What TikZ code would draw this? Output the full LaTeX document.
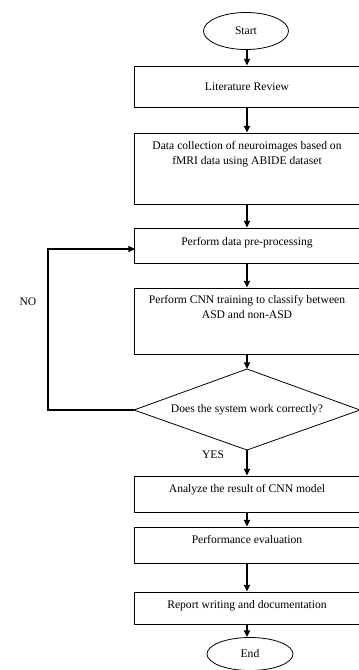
\documentclass[tikz,border=0pt]{standalone}
\usepackage{fontspec}
\setmainfont{Liberation Serif}
\usetikzlibrary{shapes.geometric,arrows.meta}
\tikzset{
  txt/.style={font=\fontsize{8.7}{10.8}\selectfont},
  box/.style={draw, line width=0.6pt, minimum width=169.5pt, inner sep=0pt, txt, align=center},
  raise/.style={text height=6.2pt, text depth=#1},
  oval/.style={draw, ellipse, line width=0.6pt, inner sep=0pt, txt},
  shapeline/.style={draw, line width=0.6pt},
  arr/.style={-{Triangle[length=5pt,width=4.5pt]}, line width=1.2pt},
  lbl/.style={txt, inner sep=0pt}
}
\begin{document}
\begin{tikzpicture}[x=0.75pt,y=-0.75pt]
\useasboundingbox (0,0) rectangle (359,670);
\clip (0,0) rectangle (359,670);
\node[oval, minimum width=63.75pt, minimum height=27.75pt] (start) at (246,31) {Start};
\node[box, minimum height=30.75pt] (lit) at (247,86.5) {Literature Review};
\node[box, minimum height=53.25pt] (data) at (247,168.5) {};
\node[lbl, align=center, anchor=north] (datat) at (247,141.5) {Data collection of neuroimages based on\\fMRI data using ABIDE dataset};
\node[box, raise=5.8pt, minimum height=26.25pt] (pre) at (247,245.5) {Perform data pre-processing};
\node[box, minimum height=49.5pt] (cnn) at (247,321) {};
\node[lbl, align=center, anchor=north] (cnnt) at (247,295.5) {Perform CNN training to classify between\\ASD and non-ASD};
% decision diamond
\coordinate (dtop) at (247,369);
\coordinate (dright) at (360,410);
\coordinate (dbot) at (247,450);
\coordinate (dleft) at (134,410);
\draw[shapeline] (dtop) -- (dright) -- (dbot) -- (dleft) -- cycle;
\node[lbl] (dec) at (247,410) {Does the system work correctly?};
\node[box, raise=9pt, minimum height=27pt] (ana) at (247,494) {Analyze the result of CNN model};
\node[box, raise=9pt, minimum height=27pt] (perf) at (247,545) {Performance evaluation};
\node[box, raise=5pt, minimum height=24pt] (rep) at (247,608) {Report writing and documentation};
\node[oval, minimum width=64.5pt, minimum height=24.75pt] (end) at (250,654) {End};
\node[lbl] (no) at (28,302) {NO};
\node[lbl] (yes) at (213,455) {YES};
\coordinate (c1) at (48,410);
\coordinate (c2) at (48,249);
\coordinate (c3) at (135,249);

\draw[arr] (start.south -| 247,0) -- (lit.north);
\draw[arr] (lit.south) -- (data.north);
\draw[arr] (data.south) -- (pre.north);
\draw[arr] (pre.south) -- (cnn.north);
\draw[arr] (cnn.south) -- (dtop);
\draw[arr] (dbot) -- (ana.north);
\draw[arr] (ana.south) -- (perf.north);
\draw[arr] (perf.south) -- (rep.north);
\draw[arr] (rep.south) -- (end.north -| 247,0);
\draw[arr] (dleft) -- (c1) -- (c2) -- (c3);
\end{tikzpicture}
\end{document}
